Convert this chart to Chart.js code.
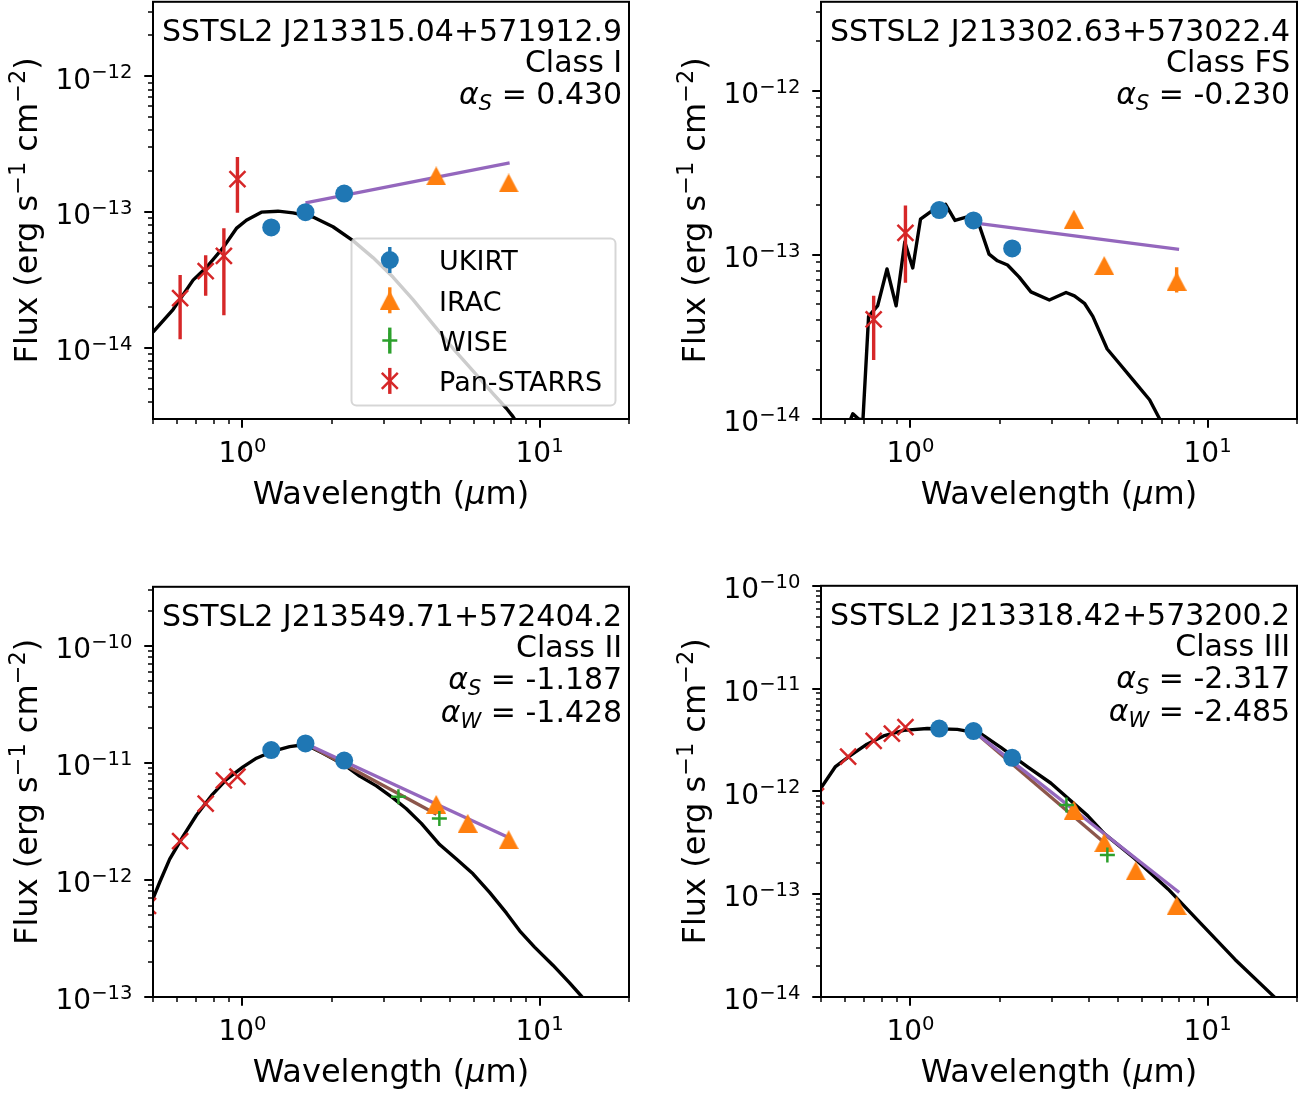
<!DOCTYPE html>
<html lang="en">
<head>
<meta charset="utf-8">
<title>SED panels</title>
<script src="https://cdn.jsdelivr.net/npm/chart.js@4.4.1/dist/chart.umd.min.js"></script>
<style>
  html, body { margin:0; padding:0; background:#ffffff; }
  body { width:1316px; height:1095px; position:relative; overflow:hidden; }
  canvas { position:absolute; }
</style>
</head>
<body>
<canvas id="p1"></canvas>
<canvas id="p2"></canvas>
<canvas id="p3"></canvas>
<canvas id="p4"></canvas>
<script>
// ======================= DATA =======================
const legendLabels = ['UKIRT', 'IRAC', 'WISE', 'Pan-STARRS'];
// axis titles as text segments (it = italic, sup = superscript)
const xAxisTitle = [{ t: 'Wavelength (' }, { t: 'μ', it: true }, { t: 'm)' }];
const yAxisTitle = [{ t: 'Flux (erg s' }, { t: '−1', sup: true }, { t: ' cm' }, { t: '−2', sup: true }, { t: ')' }];
const tickBase = '10';
const xMajorValues = [1, 10];
const xMajorExp = ['0', '1'];

// ---- Panel 1 : Class I ----
const p1Name = 'SSTSL2 J213315.04+571912.9';
const p1Class = 'Class I';
const p1AlphaS = '0.430';
const p1YMajorValues = [1e-14, 1e-13, 1e-12];
const p1YMajorExp = ['−14', '−13', '−12'];
const p1ModelWave = [0.5, 0.584, 0.682, 0.757, 0.860, 0.954, 1.031, 1.158, 1.317, 1.48, 1.728, 2.017, 2.355, 2.75, 3.21, 3.75, 4.38, 5.11, 5.97, 6.97, 7.73, 8.09, 8.6];
const p1ModelFlux = [1.31e-14, 1.92e-14, 3.16e-14, 3.93e-14, 5.46e-14, 7.59e-14, 8.72e-14, 1.0e-13, 1.017e-13, 9.89e-14, 9.21e-14, 7.81e-14, 6.17e-14, 4.63e-14, 3.33e-14, 2.27e-14, 1.50e-14, 9.95e-15, 6.78e-15, 4.61e-15, 3.6e-15, 3.18e-15, 2.6e-15];
const p1UkirtWave = [1.25, 1.63, 2.20];
const p1UkirtFlux = [7.72e-14, 1.0e-13, 1.37e-13];
const p1IracWave = [4.49, 7.87];
const p1IracFlux = [1.85e-13, 1.64e-13];
const p1PanWave = [0.617, 0.752, 0.866, 0.962];
const p1PanFlux = [2.33e-14, 3.68e-14, 4.76e-14, 1.75e-13];
const p1PanLo = [1.16e-14, 2.42e-14, 1.74e-14, 9.9e-14];
const p1PanHi = [3.45e-14, 4.82e-14, 7.6e-14, 2.55e-13];
const p1FitSWave = [1.63, 7.93];
const p1FitSFlux = [1.17e-13, 2.31e-13];

// ---- Panel 2 : Class FS ----
const p2Name = 'SSTSL2 J213302.63+573022.4';
const p2Class = 'Class FS';
const p2AlphaS = '-0.230';
const p2YMajorValues = [1e-14, 1e-13, 1e-12];
const p2YMajorExp = ['−14', '−13', '−12'];
const p2ModelWave = [0.60, 0.627, 0.640, 0.669, 0.692, 0.723, 0.776, 0.834, 0.895, 0.957, 1.018, 1.081, 1.184, 1.313, 1.412, 1.595, 1.702, 1.839, 1.963, 2.122, 2.323, 2.544, 2.934, 3.34, 3.563, 3.851, 4.11, 4.594, 5.056, 5.61, 6.38, 6.9, 7.2];
const p2ModelFlux = [8e-15, 9.85e-15, 1.076e-14, 1.0e-14, 9.85e-15, 4.22e-14, 4.91e-14, 8.2e-14, 4.89e-14, 1.197e-13, 8.32e-14, 1.65e-13, 1.86e-13, 2.03e-13, 1.62e-13, 1.73e-13, 1.525e-13, 1.01e-13, 9.2e-14, 8.67e-14, 7.32e-14, 5.95e-14, 5.31e-14, 5.9e-14, 5.63e-14, 5.07e-14, 4.22e-14, 2.67e-14, 2.17e-14, 1.73e-14, 1.31e-14, 1.0e-14, 8.5e-15];
const p2UkirtWave = [1.25, 1.63, 2.20];
const p2UkirtFlux = [1.875e-13, 1.62e-13, 1.095e-13];
const p2IracWave = [3.55, 4.49, 7.87];
const p2IracFlux = [1.65e-13, 8.6e-14, 6.9e-14];
const p2IracLo = [null, null, 5.9e-14];
const p2IracHi = [null, null, 8.4e-14];
const p2PanWave = [0.752, 0.962];
const p2PanFlux = [4.04e-14, 1.36e-13];
const p2PanLo = [2.29e-14, 6.76e-14];
const p2PanHi = [5.63e-14, 2.0e-13];
const p2FitSWave = [1.66, 8.02];
const p2FitSFlux = [1.56e-13, 1.08e-13];

// ---- Panel 3 : Class II ----
const p3Name = 'SSTSL2 J213549.71+572404.2';
const p3Class = 'Class II';
const p3AlphaS = '-1.187';
const p3AlphaW = '-1.428';
const p3YMajorValues = [1e-13, 1e-12, 1e-11, 1e-10];
const p3YMajorExp = ['−13', '−12', '−11', '−10'];
const p3ModelWave = [0.498, 0.527, 0.569, 0.631, 0.700, 0.786, 0.884, 1.005, 1.115, 1.252, 1.442, 1.629, 1.866, 2.197, 2.48, 2.823, 3.21, 3.562, 4.0, 4.61, 5.25, 5.97, 6.79, 7.73, 8.57, 9.62, 11.09, 12.62, 13.81, 15.0];
const p3ModelFlux = [6.76e-13, 9.62e-13, 1.51e-12, 2.36e-12, 3.58e-12, 5.26e-12, 7.24e-12, 9.26e-12, 1.10e-11, 1.25e-11, 1.38e-11, 1.44e-11, 1.21e-11, 9.68e-12, 7.73e-12, 6.38e-12, 5.04e-12, 4.07e-12, 3.05e-12, 2.01e-12, 1.51e-12, 1.13e-12, 7.83e-13, 5.23e-13, 3.68e-13, 2.67e-13, 1.87e-13, 1.32e-13, 1.02e-13, 8e-14];
const p3UkirtWave = [1.25, 1.63, 2.20];
const p3UkirtFlux = [1.29e-11, 1.47e-11, 1.05e-11];
const p3IracWave = [4.49, 5.73, 7.87];
const p3IracFlux = [4.43e-12, 3.05e-12, 2.21e-12];
const p3WiseWave = [3.35, 4.60];
const p3WiseFlux = [5.16e-12, 3.36e-12];
const p3PanWave = [0.481, 0.617, 0.752, 0.866, 0.962];
const p3PanFlux = [6.0e-13, 2.15e-12, 4.49e-12, 7.11e-12, 7.64e-12];
const p3FitSWave = [1.63, 7.93];
const p3FitSFlux = [1.47e-11, 2.29e-12];
const p3FitWWave = [1.63, 4.50];
const p3FitWFlux = [1.47e-11, 3.65e-12];

// ---- Panel 4 : Class III ----
const p4Name = 'SSTSL2 J213318.42+573200.2';
const p4Class = 'Class III';
const p4AlphaS = '-2.317';
const p4AlphaW = '-2.485';
const p4YMajorValues = [1e-14, 1e-13, 1e-12, 1e-11, 1e-10];
const p4YMajorExp = ['−14', '−13', '−12', '−11', '−10'];
const p4ModelWave = [0.499, 0.558, 0.627, 0.714, 0.812, 0.949, 1.139, 1.438, 1.724, 2.014, 2.479, 2.972, 3.383, 3.954, 4.5, 5.68, 7.37, 9.5, 12.37, 16.67, 18.5];
const p4ModelFlux = [1.07e-12, 1.73e-12, 2.23e-12, 2.88e-12, 3.46e-12, 3.92e-12, 4.09e-12, 4.01e-12, 3.65e-12, 2.68e-12, 1.73e-12, 1.2e-12, 8.63e-13, 5.78e-13, 3.86e-13, 2.23e-13, 1.12e-13, 5.18e-14, 2.32e-14, 1.02e-14, 7.5e-15];
const p4UkirtWave = [1.25, 1.63, 2.20];
const p4UkirtFlux = [4.09e-12, 3.86e-12, 2.12e-12];
const p4IracWave = [3.55, 4.49, 5.73, 7.87];
const p4IracFlux = [6.59e-13, 3.17e-13, 1.69e-13, 7.74e-14];
const p4WiseWave = [3.35, 4.60];
const p4WiseFlux = [7.36e-13, 2.4e-13];
const p4PanWave = [0.481, 0.617, 0.752, 0.866, 0.962];
const p4PanFlux = [9.0e-13, 2.18e-12, 3.1e-12, 3.65e-12, 4.22e-12];
const p4FitSWave = [1.63, 8.03];
const p4FitSFlux = [3.86e-12, 1.04e-13];
const p4FitWWave = [1.63, 4.60];
const p4FitWFlux = [3.86e-12, 3.0e-13];

// ======================= STYLE / LAYOUT =======================
const FONT = '"DejaVu Sans", "Liberation Sans", sans-serif';
const C_BLUE = '#1f77b4', C_ORANGE = '#ff7f0e', C_GREEN = '#2ca02c', C_RED = '#d62728', C_PURPLE = '#9467bd', C_BROWN = '#8c564b';
const PAD_L = 160, PAD_T = 30, PAD_R = 30, PAD_B = 110;
const X_MIN = 0.5, X_MAX = 20;
const TICK_FONT = 28, TITLE_FONT = 32, NOTE_FONT = 30, LEG_FONT = 27;

function triangleImage(color, w, h) {
  const c = document.createElement('canvas');
  c.width = w; c.height = h;
  const g = c.getContext('2d');
  g.fillStyle = color;
  g.beginPath();
  g.moveTo(w / 2, 0); g.lineTo(w, h); g.lineTo(0, h); g.closePath();
  g.fill();
  return c;
}
const TRI = triangleImage(C_ORANGE, 20, 19);

function pts(w, f) { return w.map((x, i) => ({ x: x, y: f[i] })); }
function lineDs(w, f, color, width, order) {
  return { data: pts(w, f), showLine: true, borderColor: color, borderWidth: width,
    pointRadius: 0, pointHoverRadius: 0, fill: false, tension: 0, order: order, clip: 0,
    borderCapStyle: 'butt', borderJoinStyle: 'round' };
}
function errDs(w, lo, hi, color) {
  const out = [];
  w.forEach((x, i) => {
    if (lo[i] != null && hi[i] != null) out.push(lineDs([x, x], [lo[i], hi[i]], color, 3.4, 5));
  });
  return out;
}
function markerDs(w, f, kind, order) {
  const base = { data: pts(w, f), showLine: false, order: order, clip: 0, pointHoverRadius: 0 };
  if (kind === 'ukirt') Object.assign(base, { pointStyle: 'circle', pointRadius: 9, pointBackgroundColor: C_BLUE, pointBorderWidth: 0, pointBorderColor: C_BLUE });
  if (kind === 'irac') Object.assign(base, { pointStyle: TRI, pointRadius: 10 });
  if (kind === 'wise') Object.assign(base, { pointStyle: 'cross', pointRadius: 7.5, pointBorderColor: C_GREEN, pointBorderWidth: 2.5 });
  if (kind === 'pan') Object.assign(base, { pointStyle: 'crossRot', pointRadius: 11.3, pointBorderColor: C_RED, pointBorderWidth: 2.5 });
  return base;
}

function logTicks(min, max) {
  const out = [];
  for (let d = Math.floor(Math.log10(min)) - 1; d <= Math.ceil(Math.log10(max)); d++) {
    for (let m = 1; m <= 9; m++) {
      const v = m * Math.pow(10, d);
      if (v >= min * (1 - 1e-9) && v <= max * (1 + 1e-9)) out.push({ value: v, major: m === 1 });
    }
  }
  return out;
}

// mixed-style text segments: italic / superscript / subscript (mathtext-like)
function segFont(s, size) {
  const sz = (s.sup || s.sub) ? size * 0.7 : size;
  return (s.it ? 'italic ' : '') + sz + 'px ' + FONT;
}
function segsWidth(ctx, segs, size) {
  return segs.reduce((acc, s) => { ctx.font = segFont(s, size); return acc + ctx.measureText(s.t).width; }, 0);
}
function drawSegs(ctx, segs, x0, baseline, size) {
  let x = x0;
  segs.forEach(s => {
    ctx.font = segFont(s, size);
    const dy = s.sup ? -0.37 * size : (s.sub ? 0.217 * size : 0);
    ctx.fillText(s.t, x, baseline + dy);
    x += ctx.measureText(s.t).width;
  });
}

function drawPow(ctx, exp, x, baseline, align) {
  const segs = [{ t: tickBase }, { t: exp, sup: true }];
  const total = segsWidth(ctx, segs, TICK_FONT);
  const x0 = align === 'right' ? x - total : x - total / 2;
  drawSegs(ctx, segs, x0, baseline, TICK_FONT);
}

function drawLegend(ctx, a) {
  const bw = 264, bh = 167;
  const bx = a.right - 13.5 - bw, by = a.bottom - 13.5 - bh;
  ctx.save();
  ctx.beginPath();
  ctx.roundRect(bx, by, bw, bh, 5);
  ctx.fillStyle = 'rgba(255,255,255,0.8)';
  ctx.fill();
  ctx.strokeStyle = 'rgba(204,204,204,0.8)';
  ctx.lineWidth = 2;
  ctx.stroke();
  const rows = [21.5, 61.8, 102.1, 142.4];
  const colors = [C_BLUE, C_ORANGE, C_GREEN, C_RED];
  const mx = bx + 38.3;
  rows.forEach((r, i) => {
    const my = by + r;
    ctx.strokeStyle = colors[i];
    ctx.lineWidth = 3.4;
    ctx.beginPath(); ctx.moveTo(mx, my - 13); ctx.lineTo(mx, my + 13); ctx.stroke();
    if (i === 0) {
      ctx.fillStyle = C_BLUE; ctx.beginPath(); ctx.arc(mx, my, 9, 0, Math.PI * 2); ctx.fill();
    } else if (i === 1) {
      ctx.drawImage(TRI, mx - TRI.width / 2, my - TRI.height / 2);
    } else if (i === 2) {
      ctx.lineWidth = 2.5; ctx.beginPath();
      ctx.moveTo(mx - 7.5, my); ctx.lineTo(mx + 7.5, my); ctx.moveTo(mx, my - 7.5); ctx.lineTo(mx, my + 7.5); ctx.stroke();
    } else {
      const d = 8; ctx.lineWidth = 2.5; ctx.beginPath();
      ctx.moveTo(mx - d, my - d); ctx.lineTo(mx + d, my + d); ctx.moveTo(mx - d, my + d); ctx.lineTo(mx + d, my - d); ctx.stroke();
    }
    ctx.fillStyle = '#000';
    ctx.font = LEG_FONT + 'px ' + FONT;
    ctx.textAlign = 'left'; ctx.textBaseline = 'alphabetic';
    ctx.fillText(legendLabels[i], bx + 87.6, my + 10.3);
  });
  ctx.restore();
}

function makePanel(id, box, yMin, yMax, yMajorValues, yMajorExp, datasets, noteLines, withLegend) {
  const cv = document.getElementById(id);
  const W = PAD_L + (box.right - box.left) + PAD_R;
  const H = PAD_T + (box.bottom - box.top) + PAD_B;
  cv.width = W; cv.height = H;
  cv.style.width = W + 'px'; cv.style.height = H + 'px';
  cv.style.left = (box.left - PAD_L) + 'px';
  cv.style.top = (box.top - PAD_T) + 'px';
  const xt = logTicks(X_MIN, X_MAX);
  const yt = logTicks(yMin, yMax);
  const noteBase = [39, 70, 102, 135];

  const decor = {
    id: 'decor_' + id,
    afterDatasetsDraw(chart) {
      const ctx = chart.ctx, a = chart.chartArea;
      const xs = chart.scales.x, ys = chart.scales.y;
      ctx.save();
      ctx.strokeStyle = '#000';
      xt.forEach(t => {
        const px = Math.round(xs.getPixelForValue(t.value));
        ctx.lineWidth = t.major ? 2 : 1.5;
        ctx.beginPath(); ctx.moveTo(px, a.bottom); ctx.lineTo(px, a.bottom + (t.major ? 8.75 : 5)); ctx.stroke();
      });
      yt.forEach(t => {
        const py = Math.round(ys.getPixelForValue(t.value));
        ctx.lineWidth = t.major ? 2 : 1.5;
        ctx.beginPath(); ctx.moveTo(a.left, py); ctx.lineTo(a.left - (t.major ? 8.75 : 5), py); ctx.stroke();
      });
      ctx.lineWidth = 2;
      ctx.strokeRect(a.left, a.top, a.right - a.left, a.bottom - a.top);
      // tick labels (positions from the library's scales)
      ctx.fillStyle = '#000';
      ctx.textAlign = 'left'; ctx.textBaseline = 'alphabetic';
      xMajorValues.forEach((v, i) => drawPow(ctx, xMajorExp[i], xs.getPixelForValue(v), a.bottom + 43, 'center'));
      yMajorValues.forEach((v, i) => drawPow(ctx, yMajorExp[i], a.left - 20.5, ys.getPixelForValue(v) + 12.2, 'right'));
      // axis titles
      const xw = segsWidth(ctx, xAxisTitle, TITLE_FONT);
      drawSegs(ctx, xAxisTitle, (a.left + a.right) / 2 - xw / 2, a.bottom + 85, TITLE_FONT);
      const yw = segsWidth(ctx, yAxisTitle, TITLE_FONT);
      ctx.save();
      ctx.translate(a.left - 116, (a.top + a.bottom) / 2);
      ctx.rotate(-Math.PI / 2);
      drawSegs(ctx, yAxisTitle, -yw / 2, 0, TITLE_FONT);
      ctx.restore();
      if (withLegend) drawLegend(ctx, a);
      ctx.fillStyle = '#000';
      ctx.textAlign = 'left'; ctx.textBaseline = 'alphabetic';
      noteLines.forEach((segs, i) => {
        const w = segsWidth(ctx, segs, NOTE_FONT);
        drawSegs(ctx, segs, a.right - 6.8 - w, a.top + noteBase[i], NOTE_FONT);
      });
      ctx.restore();
    }
  };

  return new Chart(cv, {
    type: 'scatter',
    data: { datasets: datasets },
    plugins: [decor],
    options: {
      responsive: false, animation: false, events: [],
      layout: { padding: { left: 0, top: PAD_T, right: PAD_R, bottom: 0 } },
      plugins: { legend: { display: false }, tooltip: { enabled: false } },
      scales: {
        x: {
          type: 'logarithmic', min: X_MIN, max: X_MAX,
          afterBuildTicks: s => { s.ticks = xt.map(t => ({ value: t.value, major: t.major })); },
          afterFit: s => { s.height = PAD_B; },
          grid: { display: false, drawTicks: false }, border: { display: false },
          ticks: { autoSkip: false, maxRotation: 0, minRotation: 0, padding: 19, color: '#000',
            font: { family: FONT, size: TICK_FONT }, callback: () => '' },
          title: { display: false }
        },
        y: {
          type: 'logarithmic', min: yMin, max: yMax,
          afterBuildTicks: s => { s.ticks = yt.map(t => ({ value: t.value, major: t.major })); },
          afterFit: s => { s.width = PAD_L; },
          grid: { display: false, drawTicks: false }, border: { display: false },
          ticks: { autoSkip: false, padding: 21, color: '#000',
            font: { family: FONT, size: TICK_FONT }, callback: () => '' },
          title: { display: false }
        }
      }
    }
  });
}

function noteLinesFor(name, cls, aS, aW) {
  const lines = [[{ t: name }], [{ t: cls }], [{ t: 'α', it: true }, { t: 'S', it: true, sub: true }, { t: ' = ' + aS }]];
  if (aW != null) lines.push([{ t: 'α', it: true }, { t: 'W', it: true, sub: true }, { t: ' = ' + aW }]);
  return lines;
}

// ---- Panel 1 ----
makePanel('p1', { left: 153, top: -6, right: 629, bottom: 419 }, 3.19e-15, 3.54e-12, p1YMajorValues, p1YMajorExp, [
  markerDs(p1PanWave, p1PanFlux, 'pan', 1),
  markerDs(p1IracWave, p1IracFlux, 'irac', 3),
  markerDs(p1UkirtWave, p1UkirtFlux, 'ukirt', 4),
  ...errDs(p1PanWave, p1PanLo, p1PanHi, C_RED),
  lineDs(p1FitSWave, p1FitSFlux, C_PURPLE, 3.3, 8),
  lineDs(p1ModelWave, p1ModelFlux, '#000000', 3.4, 10)
], noteLinesFor(p1Name, p1Class, p1AlphaS, null), true);

// ---- Panel 2 ----
makePanel('p2', { left: 821, top: -6, right: 1297, bottom: 419 }, 1e-14, 3.48e-12, p2YMajorValues, p2YMajorExp, [
  markerDs(p2PanWave, p2PanFlux, 'pan', 1),
  markerDs(p2IracWave, p2IracFlux, 'irac', 3),
  markerDs(p2UkirtWave, p2UkirtFlux, 'ukirt', 4),
  ...errDs(p2PanWave, p2PanLo, p2PanHi, C_RED),
  ...errDs(p2IracWave, p2IracLo, p2IracHi, C_ORANGE),
  lineDs(p2FitSWave, p2FitSFlux, C_PURPLE, 3.3, 8),
  lineDs(p2ModelWave, p2ModelFlux, '#000000', 3.4, 10)
], noteLinesFor(p2Name, p2Class, p2AlphaS, null), false);

// ---- Panel 3 ----
makePanel('p3', { left: 153, top: 579, right: 629, bottom: 997 }, 1e-13, 3.21e-10, p3YMajorValues, p3YMajorExp, [
  markerDs(p3PanWave, p3PanFlux, 'pan', 1),
  markerDs(p3WiseWave, p3WiseFlux, 'wise', 2),
  markerDs(p3IracWave, p3IracFlux, 'irac', 3),
  markerDs(p3UkirtWave, p3UkirtFlux, 'ukirt', 4),
  lineDs(p3FitSWave, p3FitSFlux, C_PURPLE, 3.3, 8),
  lineDs(p3FitWWave, p3FitWFlux, C_BROWN, 3.3, 9),
  lineDs(p3ModelWave, p3ModelFlux, '#000000', 3.4, 10)
], noteLinesFor(p3Name, p3Class, p3AlphaS, p3AlphaW), false);

// ---- Panel 4 ----
makePanel('p4', { left: 821, top: 578, right: 1297, bottom: 997 }, 1e-14, 1e-10, p4YMajorValues, p4YMajorExp, [
  markerDs(p4PanWave, p4PanFlux, 'pan', 1),
  markerDs(p4WiseWave, p4WiseFlux, 'wise', 2),
  markerDs(p4IracWave, p4IracFlux, 'irac', 3),
  markerDs(p4UkirtWave, p4UkirtFlux, 'ukirt', 4),
  lineDs(p4FitSWave, p4FitSFlux, C_PURPLE, 3.3, 8),
  lineDs(p4FitWWave, p4FitWFlux, C_BROWN, 3.3, 9),
  lineDs(p4ModelWave, p4ModelFlux, '#000000', 3.4, 10)
], noteLinesFor(p4Name, p4Class, p4AlphaS, p4AlphaW), false);
</script>
</body>
</html>
